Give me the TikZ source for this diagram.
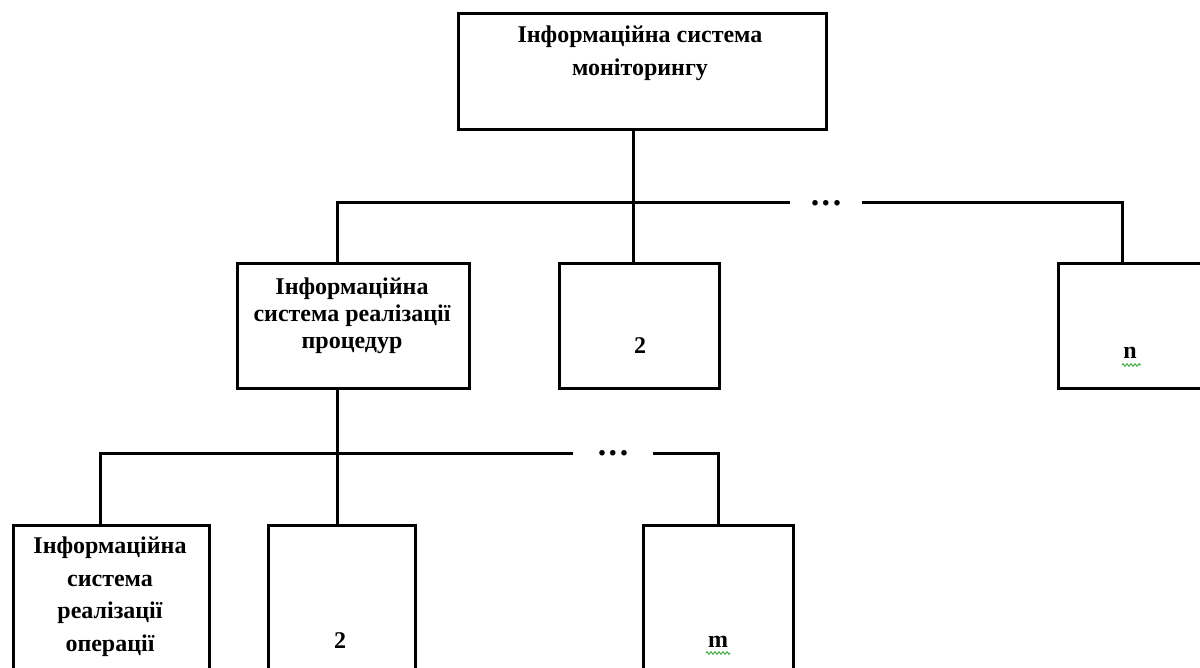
\documentclass[tikz,border=0pt]{standalone}
\usepackage{fontspec}
\setmainfont{Liberation Serif}
\usetikzlibrary{decorations.pathmorphing}
\definecolor{spellgreen}{RGB}{70,170,70}
\begin{document}
\begin{tikzpicture}[x=1pt,y=-1pt,
  box/.style={draw,line width=3pt,anchor=north west,inner sep=0pt},
  conn/.style={line width=3pt},
  lbl/.style={inner sep=0pt,align=center,font=\fontsize{24}{27}\selectfont\bfseries},
  dotsnode/.style={inner sep=0pt,font=\fontsize{34}{36}\selectfont\bfseries},
  squiggle/.style={spellgreen,line width=1pt,decorate,decoration={zigzag,segment length=4pt,amplitude=1.3pt}}]
\useasboundingbox (0,0) rectangle (1200,668);
% boxes
\node[box,minimum width=368pt,minimum height=116pt] (top) at (457,12) {};
\node[box,minimum width=232pt,minimum height=125pt] (box1) at (236,262) {};
\node[box,minimum width=160pt,minimum height=125pt] (box2) at (558,262) {};
\node[box,minimum width=180pt,minimum height=125pt] (boxn) at (1057,262) {};
\node[box,minimum width=196pt,minimum height=170pt] (boxa) at (12,524) {};
\node[box,minimum width=147pt,minimum height=170pt] (boxb) at (267,524) {};
\node[box,minimum width=150pt,minimum height=170pt] (boxm) at (642,524) {};
% texts
\node[lbl,anchor=north,font=\fontsize{24}{33}\selectfont\bfseries] (tTop) at (640,26) {Інформаційна система\\моніторингу};
\node[lbl,anchor=north] (t1) at (352,278) {Інформаційна\\система реалізації\\процедур};
\node[lbl,anchor=base] (t2) at (640,354) {2};
\node[lbl,anchor=base] (tn) at (1130,359) {n};
\node[lbl,anchor=north,font=\fontsize{24}{32.5}\selectfont\bfseries] (ta) at (110,537) {Інформаційна\\система\\реалізації\\операції};
\node[lbl,anchor=base] (tb) at (340,648) {2};
\node[lbl,anchor=base] (tm) at (718,647) {m};
% spell-check marks
\draw[squiggle] ([xshift=-8pt,yshift=-6pt]tn.base) -- ([xshift=11pt,yshift=-6pt]tn.base);
\draw[squiggle] ([xshift=-12pt,yshift=-6pt]tm.base) -- ([xshift=12pt,yshift=-6pt]tm.base);
% bus points
\coordinate (xTop) at (633,0);
\coordinate (x1) at (337,0);
\coordinate (xn) at (1122,0);
\coordinate (xa) at (100,0);
\coordinate (xm) at (718,0);
\node[dotsnode,minimum width=71pt] (dotsA) at (826,203) {.\hspace{2.5pt}.\hspace{2.5pt}.};
\node[dotsnode,minimum width=79pt] (dotsB) at (613,453) {.\hspace{2.5pt}.\hspace{2.5pt}.};
% connectors
\draw[conn] (top.south -| xTop) -- (box2.north -| xTop);
\draw[conn] (box1.north -| x1) |- (dotsA.west);
\draw[conn] (dotsA.east) -| (boxn.north -| xn);
\draw[conn] (box1.south -| x1) -- (boxb.north -| x1);
\draw[conn] (boxa.north -| xa) |- (dotsB.west);
\draw[conn] (dotsB.east) -| (boxm.north -| xm);
\end{tikzpicture}
\end{document}
